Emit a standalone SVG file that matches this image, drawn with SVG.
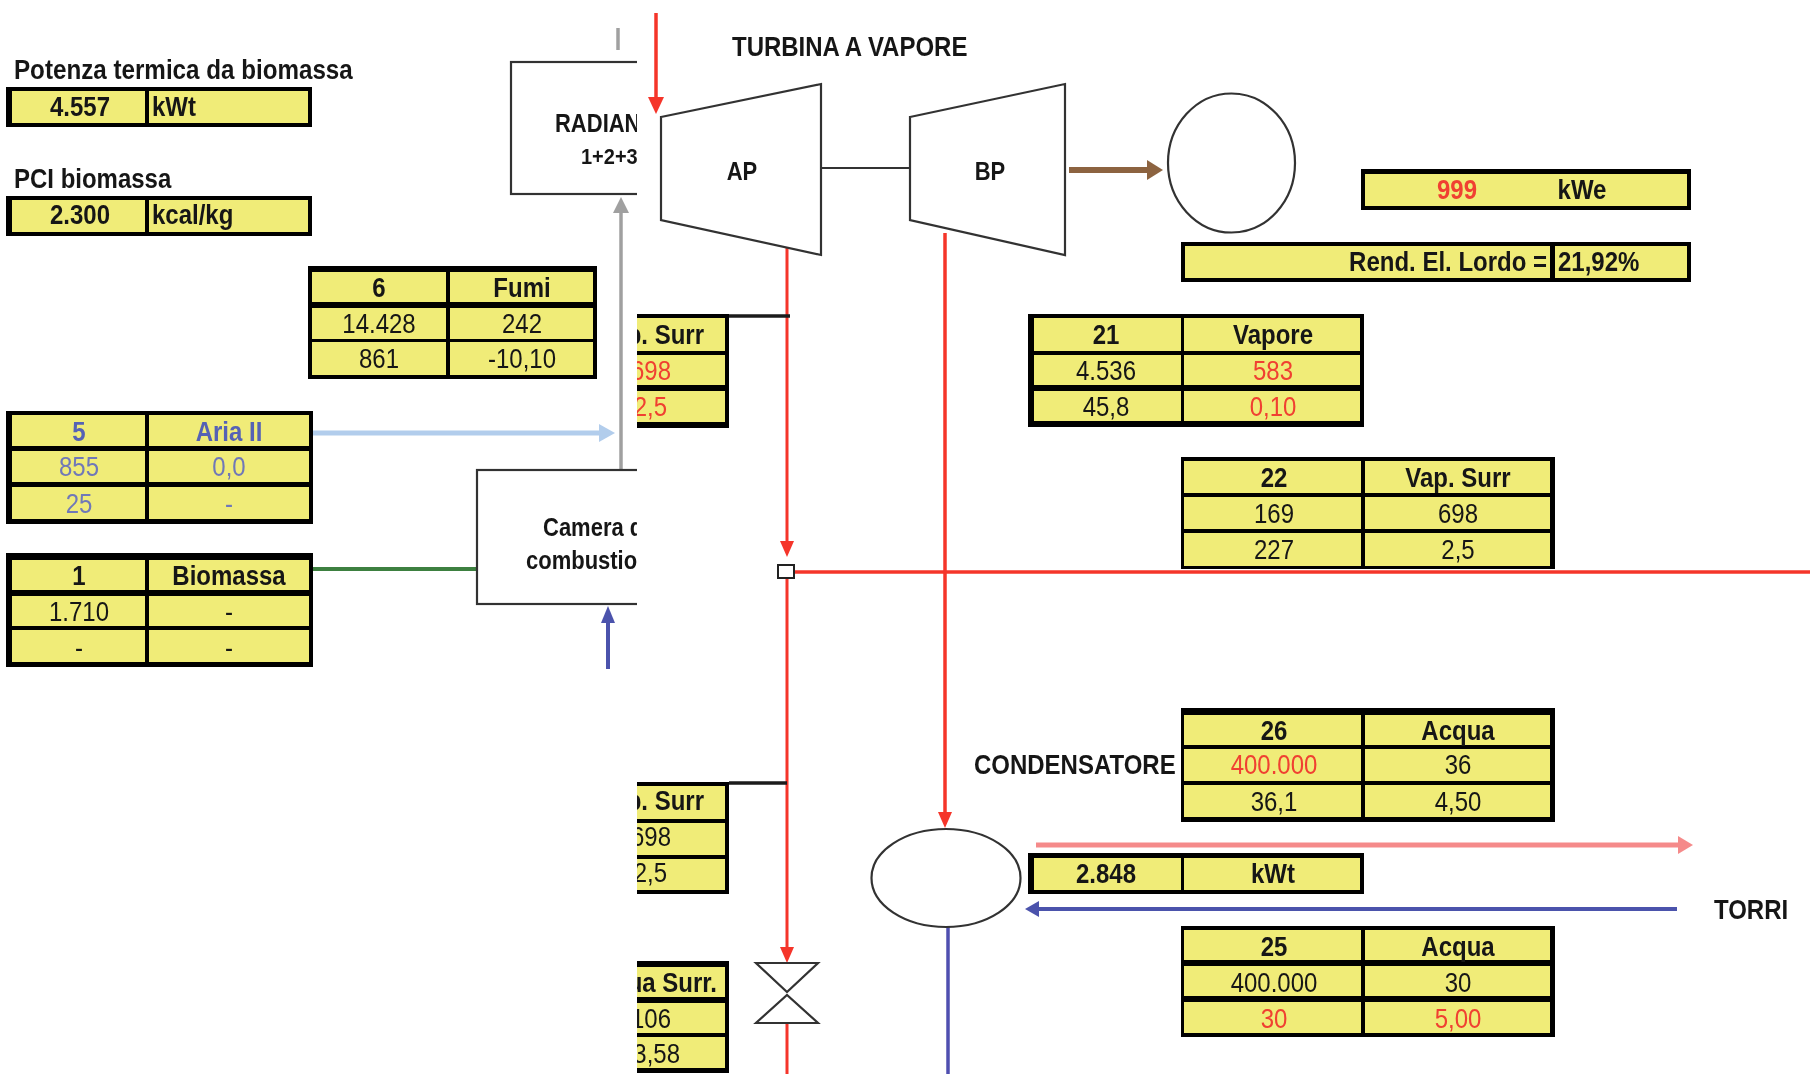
<svg xmlns="http://www.w3.org/2000/svg" width="1810" height="1074" viewBox="0 0 1810 1074">
<style>
text{font-family:"Liberation Sans",Arial,sans-serif;font-size:24px;fill:#161616;transform-box:fill-box;transform-origin:center;transform:scaleY(1.14)}
.b{font-weight:700}.m{text-anchor:middle}.r{fill:#f04030}.a{fill:#6f78b8}.ab{fill:#5562b5;font-weight:700}
.k{fill:#050505}.y{fill:#f0ec78}.t{font-size:22px;font-weight:700}
.s{fill:#fff;stroke:#333;stroke-width:2.2}.n{fill:none;stroke:#333;stroke-width:2.2}
.ln{fill:none}
</style>
<defs>
<clipPath id="cut"><rect x="0" y="0" width="637" height="1074"/></clipPath>
<clipPath id="cutR"><rect x="637" y="0" width="1173" height="1074"/></clipPath>
<filter id="soft" x="0" y="0" width="100%" height="100%" filterUnits="objectBoundingBox"><feGaussianBlur stdDeviation="0.55"/></filter>
</defs>
<rect width="1810" height="1074" fill="#fff"/>
<g filter="url(#soft)">
<g id="connectors">
<path class="ln" stroke="#a0a0a0" d="M618 28V50" stroke-width="3.500"/>
<path class="ln" stroke="#a0a0a0" d="M621 470V210" stroke-width="3.500"/><path fill="#a0a0a0" d="M621 197l-8 16h16z"/>
<path class="ln" stroke="#b2cdec" d="M313 433H602" stroke-width="5"/><path fill="#b2cdec" d="M615 433l-16-9v18z"/>
<path class="ln" stroke="#3c8040" d="M310 569H477" stroke-width="4"/>
<path class="ln" stroke="#4c52ac" d="M608 669V620" stroke-width="4"/><path fill="#4c52ac" d="M608 606l-7 17h14z"/>
<path class="ln" stroke="#f5342a" d="M656 13V100" stroke-width="3.500"/><path fill="#f5342a" d="M656 114l-8-17h16z"/>
<path class="ln" stroke="#8c6440" d="M1069 170H1150" stroke-width="6"/><path fill="#8c6440" d="M1163 170l-16-10v20z"/>
<path class="ln" stroke="#f5342a" d="M787 247V545" stroke-width="3"/><path fill="#f5342a" d="M787 557l-7-16h14z"/>
<path class="ln" stroke="#f5342a" d="M787 578V950" stroke-width="3"/><path fill="#f5342a" d="M787 963l-7-16h14z"/>
<path class="ln" stroke="#f5342a" d="M787 1023V1074" stroke-width="3"/>
<path class="ln" stroke="#f5342a" d="M945 233V815" stroke-width="3.500"/><path fill="#f5342a" d="M945 828l-7-16h14z"/>
<path class="ln" stroke="#f5342a" d="M795 572H1810" stroke-width="3.500"/>
<path class="ln" stroke="#5050b0" d="M948 927V1074" stroke-width="3.500"/>
<path class="ln" stroke="#f58a8a" d="M1036 845H1680" stroke-width="5"/><path fill="#f58a8a" d="M1693 845l-15-9v18z"/>
<path class="ln" stroke="#4c52ac" d="M1677 909H1036" stroke-width="4"/><path fill="#4c52ac" d="M1025 909l14-8v16z"/>
<path class="ln" stroke="#1a1a1a" d="M729 316H790" stroke-width="3.500"/>
<path class="ln" stroke="#1a1a1a" d="M729 783H787" stroke-width="3.500"/>
<path class="n" d="M821 168H910"/>
</g>
<g id="radiante" clip-path="url(#cut)"><rect class="s" x="511" y="62" width="200" height="132"/><text class="t" x="555" y="131">RADIAN</text><text class="b" style="font-size:20px" x="581" y="163">1+2+3</text></g>
<g id="camera" clip-path="url(#cut)"><rect class="s" x="477" y="470" width="200" height="134"/><text class="t" x="543" y="535">Camera d</text><text class="t" x="526" y="568">combustio</text></g>
<g id="turbina-ap"><path class="s" d="M661 117L821 84V255L661 220Z"/><text class="t m" x="742" y="179">AP</text></g>
<g id="turbina-bp"><path class="s" d="M910 117L1065 84V255L910 220Z"/><text class="t m" x="990" y="179">BP</text></g>
<g id="generatore"><ellipse class="s" cx="1231.500" cy="163" rx="63.500" ry="69.500"/></g>
<g id="condensatore"><ellipse class="s" cx="946" cy="878" rx="74.500" ry="49"/></g>
<g id="giunto"><rect x="778" y="565" width="16" height="13" fill="#fff" stroke="#222" stroke-width="2"/></g>
<g id="valvola"><path class="s" d="M756 963H818L787 992Z"/><path class="s" d="M756 1023H818L787 995Z"/></g>
<g id="titoli">
<text class="b" x="14" y="78" style="font-size:24.200px">Potenza termica da biomassa</text>
<text class="b" x="14" y="187">PCI biomassa</text>
<text class="b" x="732" y="55">TURBINA A VAPORE</text>
<text class="b" x="974" y="773">CONDENSATORE</text>
<text class="b" x="1714" y="918">TORRI</text>
</g>
<g id="tab-potenza"><rect class="k" x="6" y="87" width="306" height="40"/><rect class="y" x="12" y="91" width="133" height="32"/><rect class="y" x="149" y="91" width="159" height="32"/><text class="b m" x="80" y="115">4.557</text><text class="b" x="152" y="115">kWt</text></g>
<g id="tab-pci"><rect class="k" x="6" y="196" width="306" height="40"/><rect class="y" x="12" y="200" width="133" height="32"/><rect class="y" x="149" y="200" width="159" height="32"/><text class="b m" x="80" y="223">2.300</text><text class="b" x="152" y="223">kcal/kg</text></g>
<g id="tab-6"><rect class="k" x="308" y="266" width="289" height="113"/>
<path class="y" d="M312 272h134v30h-134zM450 272h143v30h-143zM312 308h134v31h-134zM450 308h143v31h-143zM312 342h134v33h-134zM450 342h143v33h-143z"/>
<text class="b m" x="379" y="296">6</text><text class="b m" x="522" y="296">Fumi</text><text class="m" x="379" y="332">14.428</text><text class="m" x="522" y="332">242</text><text class="m" x="379" y="367">861</text><text class="m" x="522" y="367">-10,10</text></g>
<g id="tab-5"><rect class="k" x="6" y="411" width="307" height="113"/>
<path class="y" d="M12 415h133v31h-133zM149 415h160v31h-160zM12 451h133v31h-133zM149 451h160v31h-160zM12 487h133v32h-133zM149 487h160v32h-160z"/>
<text class="ab m" x="79" y="440">5</text><text class="ab m" x="229" y="440">Aria II</text><text class="a m" x="79" y="475">855</text><text class="a m" x="229" y="475">0,0</text><text class="a m" x="79" y="512">25</text><text class="a m" x="229" y="512">-</text></g>
<g id="tab-1"><rect class="k" x="6" y="553" width="307" height="114"/>
<path class="y" d="M12 560h133v30h-133zM149 560h160v30h-160zM12 596h133v30h-133zM149 596h160v30h-160zM12 630h133v32h-133zM149 630h160v32h-160z"/>
<text class="b m" x="79" y="584">1</text><text class="b m" x="229" y="584">Biomassa</text><text class="m" x="79" y="620">1.710</text><text class="m" x="229" y="620">-</text><text class="m" x="79" y="656">-</text><text class="m" x="229" y="656">-</text></g>
<g id="tab-vap-surr-a" clip-path="url(#cutR)"><rect class="k" x="637" y="314" width="92" height="114"/>
<path class="y" d="M637 318h88v33h-88zM637 355h88v30h-88zM637 391h88v31h-88z"/>
<text class="b" text-anchor="end" x="704" y="343">p. Surr</text><text class="r" text-anchor="end" x="671" y="379">698</text><text class="r" text-anchor="end" x="667" y="415">2,5</text></g>
<g id="tab-vap-surr-b" clip-path="url(#cutR)"><rect class="k" x="637" y="782" width="92" height="112"/>
<path class="y" d="M637 786h88v33h-88zM637 823h88v32h-88zM637 859h88v31h-88z"/>
<text class="b" text-anchor="end" x="704" y="809">p. Surr</text><text text-anchor="end" x="671" y="845">698</text><text text-anchor="end" x="667" y="881">2,5</text></g>
<g id="tab-acqua-surr" clip-path="url(#cutR)"><rect class="k" x="637" y="961" width="92" height="112"/>
<path class="y" d="M637 967h88v30h-88zM637 1003h88v30h-88zM637 1037h88v31h-88z"/>
<text class="b" text-anchor="end" x="717" y="991">ua Surr.</text><text text-anchor="end" x="671" y="1027">106</text><text text-anchor="end" x="680" y="1062">3,58</text></g>
<g id="tab-999"><rect class="k" x="1361" y="169" width="330" height="41"/><rect class="y" x="1365" y="174" width="322" height="32"/><text class="b m r" x="1457" y="198">999</text><text class="b m" x="1582" y="198">kWe</text></g>
<g id="tab-rend"><rect class="k" x="1181" y="242" width="510" height="40"/><rect class="y" x="1185" y="246" width="365" height="32"/><rect class="y" x="1555" y="246" width="132" height="32"/><text class="b" text-anchor="end" x="1547" y="270">Rend. El. Lordo =</text><text class="b" x="1558" y="270">21,92%</text></g>
<g id="tab-21"><rect class="k" x="1028" y="314" width="336" height="113"/>
<path class="y" d="M1034 318h147v33h-147zM1184 318h176v33h-176zM1034 355h147v30h-147zM1184 355h176v30h-176zM1034 391h147v30h-147zM1184 391h176v30h-176z"/>
<text class="b m" x="1106" y="343">21</text><text class="b m" x="1273" y="343">Vapore</text><text class="m" x="1106" y="379">4.536</text><text class="m r" x="1273" y="379">583</text><text class="m" x="1106" y="415">45,8</text><text class="m r" x="1273" y="415">0,10</text></g>
<g id="tab-22"><rect class="k" x="1181" y="457" width="374" height="112"/>
<path class="y" d="M1184 461h177v32h-177zM1365 461h185v32h-185zM1184 497h177v32h-177zM1365 497h185v32h-185zM1184 533h177v33h-177zM1365 533h185v33h-185z"/>
<text class="b m" x="1274" y="486">22</text><text class="b m" x="1458" y="486">Vap. Surr</text><text class="m" x="1274" y="522">169</text><text class="m" x="1458" y="522">698</text><text class="m" x="1274" y="558">227</text><text class="m" x="1458" y="558">2,5</text></g>
<g id="tab-26"><rect class="k" x="1181" y="708" width="374" height="114"/>
<path class="y" d="M1184 715h177v30h-177zM1365 715h185v30h-185zM1184 749h177v32h-177zM1365 749h185v32h-185zM1184 785h177v32h-177zM1365 785h185v32h-185z"/>
<text class="b m" x="1274" y="739">26</text><text class="b m" x="1458" y="739">Acqua</text><text class="m r" x="1274" y="773">400.000</text><text class="m" x="1458" y="773">36</text><text class="m" x="1274" y="810">36,1</text><text class="m" x="1458" y="810">4,50</text></g>
<g id="tab-2848"><rect class="k" x="1028" y="853" width="336" height="41"/><rect class="y" x="1034" y="858" width="147" height="32"/><rect class="y" x="1184" y="858" width="176" height="32"/><text class="b m" x="1106" y="882">2.848</text><text class="b m" x="1273" y="882">kWt</text></g>
<g id="tab-25"><rect class="k" x="1181" y="926" width="374" height="111"/>
<path class="y" d="M1184 930h177v30h-177zM1365 930h185v30h-185zM1184 966h177v30h-177zM1365 966h185v30h-185zM1184 1002h177v31h-177zM1365 1002h185v31h-185z"/>
<text class="b m" x="1274" y="955">25</text><text class="b m" x="1458" y="955">Acqua</text><text class="m" x="1274" y="991">400.000</text><text class="m" x="1458" y="991">30</text><text class="m r" x="1274" y="1027">30</text><text class="m r" x="1458" y="1027">5,00</text></g>
</g>
</svg>
